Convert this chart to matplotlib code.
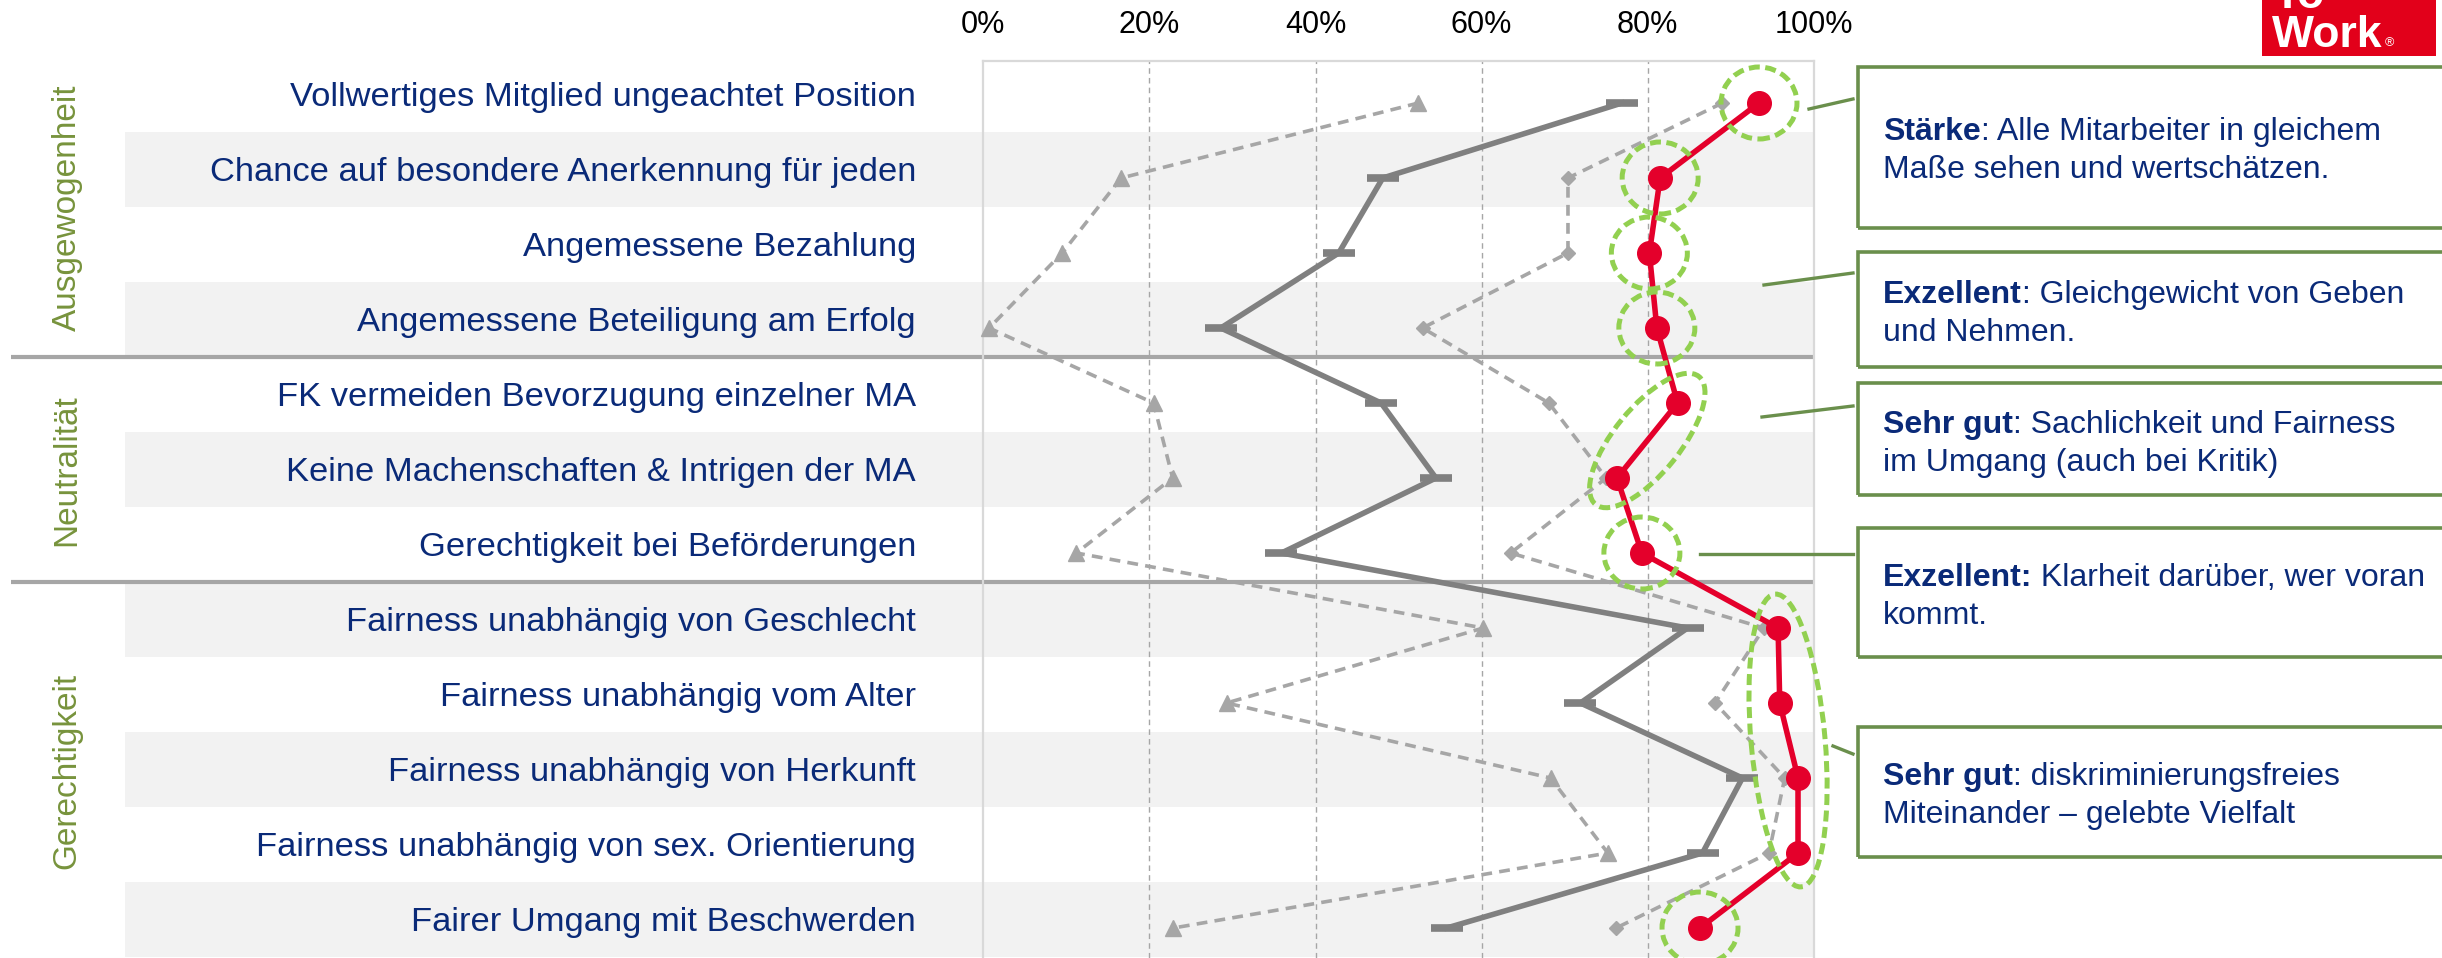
import numpy as np
import matplotlib
matplotlib.use("Agg")
import matplotlib.pyplot as plt
from matplotlib.patches import Ellipse, Rectangle
from matplotlib.lines import Line2D
from matplotlib.transforms import IdentityTransform

plt.rcParams["font.family"] = ["Liberation Sans", "DejaVu Sans"]

# ---------------------------------------------------------------------
# Data
# ---------------------------------------------------------------------
items = [
    "Vollwertiges Mitglied ungeachtet Position",
    "Chance auf besondere Anerkennung für jeden",
    "Angemessene Bezahlung",
    "Angemessene Beteiligung am Erfolg",
    "FK vermeiden Bevorzugung einzelner MA",
    "Keine Machenschaften & Intrigen der MA",
    "Gerechtigkeit bei Beförderungen",
    "Fairness unabhängig von Geschlecht",
    "Fairness unabhängig vom Alter",
    "Fairness unabhängig von Herkunft",
    "Fairness unabhängig von sex. Orientierung",
    "Fairer Umgang mit Beschwerden",
]
groups = ["Ausgewogenheit", "Neutralität", "Gerechtigkeit"]
group_sizes = [4, 3, 5]

company = [93.4, 81.5, 80.2, 81.1, 83.6, 76.3, 79.3, 95.7, 95.9, 98.1, 98.1, 86.3]
bench_avg = [76.9, 48.1, 42.8, 28.6, 47.9, 54.5, 35.9, 84.8, 71.9, 91.4, 86.6, 55.8]
bench_low = [52.4, 16.6, 9.5, 0.7, 20.5, 22.8, 11.2, 60.2, 29.3, 68.3, 75.2, 22.9]
bench_top = [89.0, 70.4, 70.4, 52.9, 68.1, 75.0, 63.5, 94.0, 88.1, 96.5, 94.6, 76.2]

x_ticks = [0, 20, 40, 60, 80, 100]
x_ticklabels = ["0%", "20%", "40%", "60%", "80%", "100%"]

# rows marked with green dashed rings
highlight_groups = [[0], [1], [2], [3], [4, 5], [6], [7, 8, 9, 10], [11]]

box_bold = ["Stärke", "Exzellent", "Sehr gut", "Exzellent:", "Sehr gut"]
box_rest = [": Alle Mitarbeiter in gleichem", ": Gleichgewicht von Geben",
            ": Sachlichkeit und Fairness", " Klarheit darüber, wer voran",
            ": diskriminierungsfreies"]
box_line2 = ["Maße sehen und wertschätzen.", "und Nehmen.",
             "im Umgang (auch bei Kritik)", "kommt.",
             "Miteinander – gelebte Vielfalt"]

# ---------------------------------------------------------------------
# Layout (pixels of the 2442 x 958 canvas)
# ---------------------------------------------------------------------
W, H = 2442, 958
X0, X100 = 983.3, 1813.8
TOP = 61
ROW0, ROW_H = 103, 75.0

NAVY = "#0a2a78"
RED = "#e4002b"
DGREY = "#808080"
LGREY = "#a6a6a6"
BAND = "#f2f2f2"
GREEN_DARK = "#6a8f4c"
GREEN_LIGHT = "#92d050"
GROUP_GREEN = "#77933c"


def fx(px):
    return px / W


def fy(py):
    return 1 - py / H


def ax_x(px):
    return (px - X0) / (X100 - X0)


fig = plt.figure(figsize=(W / 100, H / 100), dpi=100)
ax = fig.add_axes([fx(X0), 0, fx(X100) - fx(X0), fy(TOP)])
ax.set_xlim(0, 100)
ax.set_ylim((H - ROW0) / ROW_H, (TOP - ROW0) / ROW_H)

rows = np.arange(len(items))
ytr = ax.get_yaxis_transform()

# alternating row bands, reaching left under the labels
for i in rows:
    if i % 2 == 1:
        ax.axhspan(i - 0.62, i + 0.38, xmin=ax_x(125), xmax=1, color=BAND,
                   zorder=0, clip_on=False, lw=0)

# group separators + group titles
start = 0
for g, n in zip(groups, group_sizes):
    end = start + n - 1
    if end < len(items) - 1:
        ax.plot([ax_x(11), 1], [end + 0.38, end + 0.38], transform=ytr,
                color=LGREY, lw=3, clip_on=False, zorder=1,
                solid_capstyle="butt")
    ax.text(ax_x(67), (start + end) / 2 - 0.1, g, transform=ytr,
            rotation=90, ha="center", va="center", fontsize=24,
            color=GROUP_GREEN)
    start += n

# item labels
for i, lab in enumerate(items):
    ax.text(ax_x(916), i - 0.07, lab, transform=ytr, ha="right",
            va="center", fontsize=24.8, color=NAVY)

# grid
for xv in x_ticks[1:-1]:
    ax.axvline(xv, color=LGREY, lw=1, ls=(0, (4, 3)), zorder=1)

for side in ["left", "right", "top"]:
    ax.spines[side].set_color("#d9d9d9")
    ax.spines[side].set_linewidth(1.6)
ax.spines["bottom"].set_visible(False)
ax.set_facecolor("none")

ax.xaxis.tick_top()
ax.set_xticks(x_ticks)
ax.set_xticklabels(x_ticklabels, fontsize=22, color="black")
ax.tick_params(axis="x", length=0, pad=15)
ax.set_yticks([])

# series
ax.plot(bench_low, rows, color=LGREY, lw=2.6, ls=(0, (3, 2)), marker="^",
        ms=11, zorder=3, clip_on=False)
ax.plot(bench_top, rows, color=LGREY, lw=2.6, ls=(0, (3, 2)), marker="D",
        ms=7, zorder=3, clip_on=False)
ax.plot(bench_avg, rows, color=DGREY, lw=4, marker="_", ms=23, mew=5.5,
        zorder=4, clip_on=False)
ax.plot(company, rows, color=RED, lw=4, marker="o", ms=17, zorder=5,
        clip_on=False)

# green dashed rings around the company points
pts = ax.transData.transform(np.column_stack([company, rows]))
for grp in highlight_groups:
    p1, p2 = pts[grp[0]], pts[grp[-1]]
    c = (p1 + p2) / 2
    if len(grp) == 1:
        w, h, ang = 76, 72, 0
    else:
        d = p2 - p1
        w = np.hypot(*d) + 68
        h = 66 if len(grp) == 2 else 74
        ang = np.degrees(np.arctan2(d[1], d[0]))
    ring = Ellipse(c, w, h, angle=ang, transform=IdentityTransform(),
                   fill=False, ec=GREEN_LIGHT, lw=3.6, ls=(0, (2.2, 1.1)),
                   zorder=10)
    fig.add_artist(ring)

# ---------------------------------------------------------------------
# Comment boxes on the right
# ---------------------------------------------------------------------
box_y = [(67, 228), (252, 367), (383, 495), (528, 657), (727, 857)]
line1_y = [132, 295, 425, 578, 777]
conn = [((1809, 109), (1853, 99)), ((1764, 285), (1853, 273)),
        ((1762, 417), (1853, 406)), ((1700, 554), (1853, 554)),
        ((1833, 746), (1853, 754))]
BOX_X = 1858
TXT_X = 1883

for (y0, y1) in box_y:
    fig.add_artist(Rectangle((fx(BOX_X), fy(y1)), fx(2480 - BOX_X),
                             (y1 - y0) / H, transform=fig.transFigure,
                             fill=False, ec=GREEN_DARK, lw=2.6))
for (a, b) in conn:
    fig.add_artist(Line2D([fx(a[0]), fx(b[0])], [fy(a[1]), fy(b[1])],
                          transform=fig.transFigure, color=GREEN_DARK, lw=2.4))

renderer = fig.canvas.get_renderer()
for bold, rest, l2, yl in zip(box_bold, box_rest, box_line2, line1_y):
    t = fig.text(fx(TXT_X), fy(yl), bold, fontsize=23, fontweight="bold",
                 color=NAVY, va="center", ha="left")
    bb = t.get_window_extent(renderer)
    fig.text(bb.x1 / W, fy(yl), rest, fontsize=23, color=NAVY,
             va="center", ha="left")
    fig.text(fx(TXT_X), fy(yl + 38), l2, fontsize=23, color=NAVY,
             va="center", ha="left")

# logo corner
fig.add_artist(Rectangle((fx(2262), fy(56)), fx(2436 - 2262), 56 / H,
                         transform=fig.transFigure, color="#e2001a", lw=0))
fig.text(fx(2273), fy(8), "To", fontsize=32, fontweight="bold", color="white",
         va="baseline", ha="left")
fig.text(fx(2272), fy(47), "Work", fontsize=32, fontweight="bold",
         color="white", va="baseline", ha="left")
fig.text(fx(2385), fy(46), "®", fontsize=9, color="white",
         va="baseline", ha="left")

fig.savefig("out.png", dpi=100)
